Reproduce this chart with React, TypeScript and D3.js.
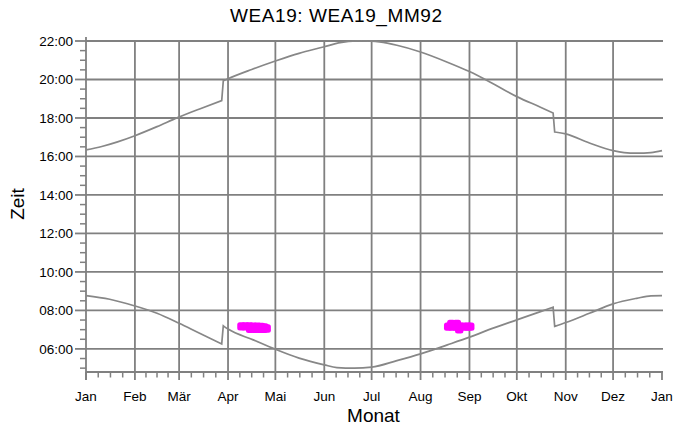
import React from "react";
import * as d3 from "d3";

const monthStarts = [0, 31, 59, 90, 120, 151, 181, 212, 243, 273, 304, 334, 365];
const monthLabels = ["Jan", "Feb", "Mär", "Apr", "Mai", "Jun", "Jul", "Aug", "Sep", "Okt", "Nov", "Dez", "Jan"];
const hourTicks = [6, 8, 10, 12, 14, 16, 18, 20, 22];

const sunsetDays = [0, 10, 20, 31, 45, 58, 72, 86, 87, 90, 105, 120, 135, 151, 160, 172, 181, 186, 197, 212, 229, 243, 258, 273, 288, 296, 297, 304, 319, 334, 341, 349, 358, 365];
const sunsetTimes = [16.34, 16.52, 16.76, 17.08, 17.55, 18.02, 18.47, 18.9, 19.93, 20.04, 20.52, 20.96, 21.36, 21.7, 21.9, 22.01, 21.99, 21.95, 21.78, 21.43, 20.9, 20.41, 19.78, 19.11, 18.56, 18.26, 17.27, 17.17, 16.7, 16.3, 16.2, 16.17, 16.2, 16.3];

const sunriseDays = [0, 15, 31, 45, 59, 72, 86, 87, 90, 106, 120, 135, 151, 159, 170, 181, 197, 212, 229, 243, 258, 273, 288, 296, 297, 304, 319, 334, 349, 358, 365];
const sunriseTimes = [8.77, 8.58, 8.23, 7.85, 7.33, 6.81, 6.26, 7.2, 7.03, 6.47, 5.98, 5.52, 5.17, 5.03, 5.0, 5.05, 5.39, 5.74, 6.21, 6.61, 7.08, 7.51, 7.94, 8.17, 7.17, 7.37, 7.85, 8.34, 8.63, 8.76, 8.77];

const shadowDays = [98.5, 101, 103.5, 106, 108.5, 111, 113, 104, 107, 110, 112.5, 114.5, 229.5, 232, 234.5, 237, 239.5, 242, 243.5, 231.5, 235, 236.5];
const shadowTimes = [7.17, 7.17, 7.17, 7.16, 7.15, 7.14, 7.12, 7.05, 7.05, 7.05, 7.05, 7.06, 7.16, 7.16, 7.16, 7.16, 7.16, 7.16, 7.16, 7.3, 7.3, 7.02];

const W = 676;
const H = 430;
const left = 86;
const right = 662;
const top = 41;
const bottom = 372;

type P = [number, number];

function splitAtJumps(pts: P[]): P[][] {
  const segs: P[][] = [];
  let cur: P[] = [pts[0]];
  for (let i = 1; i < pts.length; i++) {
    const a = pts[i - 1];
    const b = pts[i];
    if (b[0] - a[0] <= 1 && Math.abs(b[1] - a[1]) > 0.5) {
      segs.push(cur);
      cur = [b];
    } else cur.push(b);
  }
  segs.push(cur);
  return segs;
}

export default function App() {
  const x = d3.scaleLinear().domain([0, 365]).range([left, right]);
  const y = d3.scaleLinear().domain([4.8, 22]).range([bottom, top]);

  const line = d3
    .line<P>()
    .x((d) => x(d[0]))
    .y((d) => y(d[1]))
    .curve(d3.curveMonotoneX);

  const sunset = sunsetDays.map((d, i) => [d, sunsetTimes[i]] as P);
  const sunrise = sunriseDays.map((d, i) => [d, sunriseTimes[i]] as P);

  const buildPath = (pts: P[]) => {
    const segs = splitAtJumps(pts);
    let d = "";
    segs.forEach((s, i) => {
      const p = line(s) || "";
      if (i > 0) {
        const prev = segs[i - 1][segs[i - 1].length - 1];
        d += `L${x(s[0][0])},${y(s[0][1])}` + p.replace(/^M[^LC]*/, "");
        void prev;
      } else d += p;
    });
    return d;
  };

  const minorX: number[] = [];
  for (let i = 0; i < 12; i++) {
    const a = monthStarts[i];
    const b = monthStarts[i + 1];
    for (let k = 1; k < 4; k++) minorX.push(a + ((b - a) * k) / 4);
  }
  const minorY: number[] = [];
  for (let h = 5; h <= 21.5; h += 0.5) {
    if (!(h % 2 === 0 && h >= 6)) minorY.push(h);
  }

  const gray = "#808080";
  const font = "'Liberation Sans', Arial, Helvetica, sans-serif";
  const fmt = (h: number) => (h < 10 ? "0" + h : "" + h) + ":00";

  return (
    <svg
      width={W}
      height={H}
      style={{ position: "absolute", left: 0, top: 0, background: "#fff" }}
      fontFamily={font}
    >
      <rect x={0} y={0} width={W} height={H} fill="#fff" />
      {hourTicks.map((h) => (
        <line key={"hg" + h} x1={left} x2={right + 1} y1={y(h)} y2={y(h)} stroke={gray} strokeWidth={1.8} />
      ))}
      {monthStarts.slice(1, 12).map((d) => (
        <line key={"vg" + d} x1={x(d)} x2={x(d)} y1={top} y2={bottom} stroke={gray} strokeWidth={1.8} />
      ))}
      <line x1={left} x2={left} y1={top - 4} y2={bottom + 8} stroke={gray} strokeWidth={1.8} />
      <line x1={left} x2={right + 1} y1={bottom} y2={bottom} stroke={gray} strokeWidth={1.8} />
      {hourTicks.map((h) => (
        <g key={"yt" + h}>
          <line x1={left - 11} x2={left} y1={y(h)} y2={y(h)} stroke={gray} strokeWidth={1.8} />
          <text x={73} y={y(h)} dy="0.35em" textAnchor="end" fontSize={13.5} fill="#000">
            {fmt(h)}
          </text>
        </g>
      ))}
      {minorY.map((h) => (
        <line key={"ym" + h} x1={left - 6} x2={left} y1={y(h)} y2={y(h)} stroke={gray} strokeWidth={1.5} />
      ))}
      {monthStarts.map((d, i) => (
        <g key={"xt" + i}>
          <line x1={x(d)} x2={x(d)} y1={bottom} y2={bottom + 8} stroke={gray} strokeWidth={1.8} />
          <text x={x(d)} y={400.5} textAnchor="middle" fontSize={13.5} fill="#000">
            {monthLabels[i]}
          </text>
        </g>
      ))}
      {minorX.map((d, i) => (
        <line key={"xm" + i} x1={x(d)} x2={x(d)} y1={bottom} y2={bottom + 5.5} stroke={gray} strokeWidth={1.5} />
      ))}
      <path d={buildPath(sunset)} fill="none" stroke="#878787" strokeWidth={1.7} />
      <path d={buildPath(sunrise)} fill="none" stroke="#878787" strokeWidth={1.7} />
      {shadowDays.map((d, i) => (
        <rect
          key={"s" + i}
          x={x(d) - 4.2}
          y={y(shadowTimes[i]) - 4.2}
          width={8.4}
          height={8.4}
          rx={2.5}
          fill="#ff00ff"
        />
      ))}
      <text x={336} y={21.7} textAnchor="middle" fontSize={19} fill="#000" textLength={212} lengthAdjust="spacing">
        WEA19: WEA19_MM92
      </text>
      <text x={373.5} y={421.7} textAnchor="middle" fontSize={19} fill="#000">
        Monat
      </text>
      <text transform={`translate(24,204) rotate(-90)`} textAnchor="middle" fontSize={19} fill="#000">
        Zeit
      </text>
    </svg>
  );
}
